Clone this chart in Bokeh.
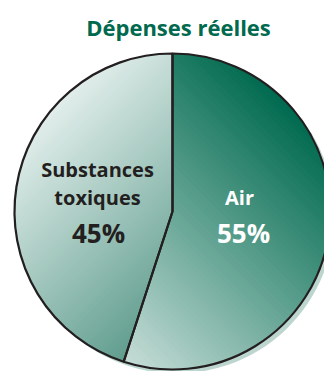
import numpy as np
from bokeh.plotting import figure
from bokeh.models import Range1d, ColumnDataSource
from bokeh.core.properties import value
from bokeh.embed import file_html
from bokeh.resources import INLINE

# ---- data ----
title_text = "Dépenses réelles"
categories = ["Air", "Substances\ntoxiques"]
shares = [55, 45]
pct_labels = ["55%", "45%"]

# ---- layout (pixel-like units, y up) ----
W, H = 324, 371
CX, CY, R = 172, 371 - 211, 158
SHADOW = (4, -4)

# gradient endpoints per slice: (direction vector, color at t=-1, color at t=+1)
grad = [
    ((1, 1), "#d2e4df", "#006a4f"),     # Air: light bottom-left -> dark top-right
    ((1, -1), "#e2eeeb", "#2f7f6b"),    # Substances: light top-left -> dark bottom-right
]


def hex2rgb(h):
    h = h.lstrip("#")
    return np.array([int(h[i:i + 2], 16) for i in (0, 2, 4)], float)


def rgb2hex(c):
    c = np.clip(np.round(c), 0, 255).astype(int)
    return "#%02x%02x%02x" % tuple(c)


def clip_half(poly, nx, ny, c):
    # keep points with nx*x + ny*y >= c
    out = []
    n = len(poly)
    for i in range(n):
        p1 = poly[i]
        p2 = poly[(i + 1) % n]
        d1 = nx * p1[0] + ny * p1[1] - c
        d2 = nx * p2[0] + ny * p2[1] - c
        if d1 >= 0:
            out.append(p1)
        if (d1 >= 0) != (d2 >= 0):
            t = d1 / (d1 - d2)
            out.append((p1[0] + t * (p2[0] - p1[0]), p1[1] + t * (p2[1] - p1[1])))
    return out


# angles: start at top, go clockwise
total = float(sum(shares))
fracs = [s / total for s in shares]
starts, ends = [], []
a = np.pi / 2
for f in fracs:
    starts.append(a)
    a = a - 2 * np.pi * f
    ends.append(a)

p = figure(width=W, height=H, output_backend="svg", toolbar_location=None,
           x_range=Range1d(0, W), y_range=Range1d(0, H), min_border=0)
p.axis.visible = False
p.grid.visible = False
p.outline_line_color = None
p.background_fill_color = "white"
p.border_fill_color = "white"

# shadow
p.wedge(x=CX + SHADOW[0], y=CY + SHADOW[1], radius=R,
        start_angle=ends, end_angle=starts,
        fill_color="#bcd6cf", line_color=None)

# gradient-filled slices
NB = 70
for i in range(len(shares)):
    th = np.linspace(starts[i], ends[i], 240)
    poly = [(CX, CY)] + [(CX + R * np.cos(t), CY + R * np.sin(t)) for t in th]
    (dx, dy), c0, c1 = grad[i]
    nrm = np.hypot(dx, dy)
    nx, ny = dx / nrm, dy / nrm
    proj = [nx * (x - CX) + ny * (y - CY) for x, y in poly]
    lo, hi = min(proj), max(proj)
    edges = np.linspace(lo, hi, NB + 1)
    rgb0, rgb1 = hex2rgb(c0), hex2rgb(c1)
    xs, ys, cols = [], [], []
    for k in range(NB):
        a0 = edges[k] - 0.6
        a1 = edges[k + 1] + 0.6
        q = clip_half(poly, nx, ny, a0 + nx * CX + ny * CY)
        q = clip_half(q, -nx, -ny, -(a1 + nx * CX + ny * CY))
        if len(q) < 3:
            continue
        mid = 0.5 * (edges[k] + edges[k + 1]) / R  # -1..1
        t = (mid + 1) / 2
        xs.append([pt[0] for pt in q])
        ys.append([pt[1] for pt in q])
        cols.append(rgb2hex(rgb0 + (rgb1 - rgb0) * t))
    p.patches(xs=xs, ys=ys, fill_color=cols, line_color=None)

# outlines
p.wedge(x=CX, y=CY, radius=R, start_angle=ends, end_angle=starts,
        fill_color=None, line_color="#231f20", line_width=2.2)

# title
p.text(x=[178], y=[H - 26], text=[title_text], text_font=value("Open Sans"),
       text_font_style="bold", text_font_size="22px", text_color="#00694e",
       text_align="center", text_baseline="middle")

# labels
lab_src = ColumnDataSource(dict(
    x=[239, 97, 97],
    y=[H - 197, H - 169, H - 197],
    text=["Air", "Substances", "toxiques"],
    color=["white", "#231f20", "#231f20"],
))
p.text(x="x", y="y", text="text", source=lab_src, text_color="color",
       text_font=value("Open Sans"), text_font_style="bold", text_font_size="20px",
       text_align="center", text_baseline="middle")

pct_src = ColumnDataSource(dict(
    x=[243, 98], y=[H - 232, H - 232], text=pct_labels,
    color=["white", "#231f20"],
))
p.text(x="x", y="y", text="text", source=pct_src, text_color="color",
       text_font=value("Open Sans"), text_font_style="bold", text_font_size="26px",
       text_align="center", text_baseline="middle")

open("out.html", "w").write(file_html(p, INLINE))
